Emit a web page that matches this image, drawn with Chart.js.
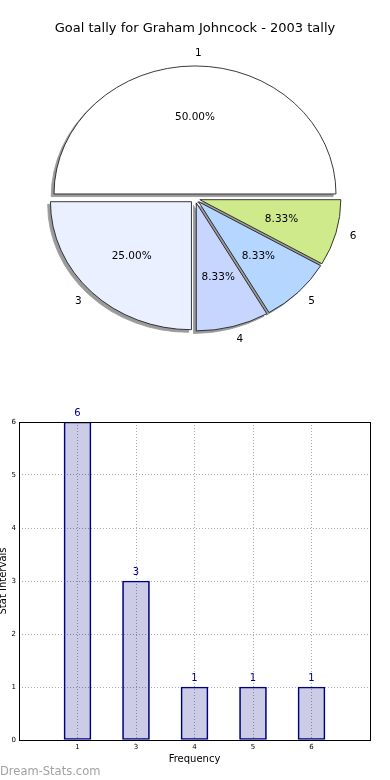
<!DOCTYPE html>
<html><head><meta charset="utf-8">
<script src="https://cdn.jsdelivr.net/npm/chart.js@4.4.1/dist/chart.umd.min.js"></script>
<style>
html,body{margin:0;padding:0;background:#fff;}
#wrap{position:relative;width:390px;height:780px;overflow:hidden;background:#fff;}
#pieBox{position:absolute;left:0;top:0;width:390px;height:390px;}
#barBox{position:absolute;left:0;top:380px;width:390px;height:400px;}
#mark{position:absolute;left:0;top:765px;font:11.5px/12px "DejaVu Sans";color:#a2a2a2;white-space:nowrap;}
</style></head><body>
<div id="wrap">
<div id="pieBox"><canvas id="pie"></canvas></div>
<div id="barBox"><canvas id="bar"></canvas></div>
<div id="mark">Dream-Stats.com</div>
</div>
<script>
// ---- data ----
const chartTitle = 'Goal tally for Graham Johncock - 2003 tally';
const categories = ['1', '3', '4', '5', '6'];
const tallies = [6, 3, 1, 1, 1];
const yTickValues = [0, 1, 2, 3, 4, 5, 6];
const xAxisTitle = 'Frequency';
const yAxisTitle = 'Stat Intervals';
// ---- styles ----
const sliceColors = ['#ffffff', '#eaf0ff', '#c6d6ff', '#b4d6ff', '#cfea8b'];

const FONT = '"DejaVu Sans", sans-serif';
const SY = 128 / 141;      // vertical squash of the pie (ellipse)
const EXPLODE = 5;
const SH_DX = -2.8, SH_DY = 2.6;

// pie draws counter-clockwise in the reference: reorder for Chart.js (clockwise)
const pieOrder = [0].concat(categories.slice(1).map((_, i) => categories.length - 1 - i));

const piePlugin = {
  id: 'pieDraw',
  beforeDatasetsDraw(chart) {
    const ctx = chart.ctx;
    const arcs = chart.getDatasetMeta(0).data;
    const cx = arcs[0].x, cy = arcs[0].y;
    const drawArc = (el, dx, dy, override) => {
      const orig = el.options;
      if (override) el.options = Object.assign({}, orig, override);
      ctx.save(); ctx.translate(dx, dy); el.draw(ctx); ctx.restore();
      el.options = orig;
    };
    ctx.save();
    ctx.translate(cx, cy); ctx.scale(1, SY); ctx.translate(-cx, -cy);
    arcs.forEach(el => {
      const mid = (el.startAngle + el.endAngle) / 2;
      drawArc(el, Math.cos(mid) * EXPLODE + SH_DX, Math.sin(mid) * EXPLODE + SH_DY / SY,
        {backgroundColor: '#9a9a9a', borderColor: '#9a9a9a'});
    });
    arcs.forEach(el => {
      const mid = (el.startAngle + el.endAngle) / 2;
      drawArc(el, Math.cos(mid) * EXPLODE, Math.sin(mid) * EXPLODE);
    });
    ctx.restore();

    const ds = chart.data.datasets[0];
    const total = ds.data.reduce((a, b) => a + b, 0);
    ctx.save();
    ctx.fillStyle = '#000';
    ctx.font = '10.5px ' + FONT;
    ctx.textBaseline = 'middle';
    arcs.forEach((el, i) => {
      const mid = (el.startAngle + el.endAngle) / 2;
      const R = el.outerRadius;
      const c = Math.cos(mid), s = Math.sin(mid);
      ctx.textAlign = c > -1e-6 ? 'left' : 'right';
      ctx.fillText(chart.data.labels[i], cx + c * (EXPLODE + 1.1 * R), cy + SY * s * (EXPLODE + 1.1 * R));
      ctx.textAlign = 'center';
      ctx.fillText((ds.data[i] / total * 100).toFixed(2) + '%', cx + c * (EXPLODE + 0.6 * R), cy + SY * s * (EXPLODE + 0.6 * R));
    });
    ctx.restore();
    return false;
  }
};

new Chart(document.getElementById('pie'), {
  type: 'pie',
  data: {
    labels: pieOrder.map(i => categories[i]),
    datasets: [{
      data: pieOrder.map(i => tallies[i]),
      backgroundColor: pieOrder.map(i => sliceColors[i]),
      borderColor: '#1a1a1a',
      borderWidth: 0.9,
      radius: 141,
      offset: 0,
      hoverOffset: 0
    }]
  },
  options: {
    responsive: true,
    maintainAspectRatio: false,
    animation: false,
    rotation: 270,
    layout: {padding: {top: 0, left: 0, right: 0, bottom: 29.8}},
    plugins: {
      legend: {display: false},
      tooltip: {enabled: false},
      title: {
        display: true, text: chartTitle, color: '#000',
        font: {family: FONT, size: 13, weight: 'normal'},
        padding: {top: 21.2, bottom: 0}
      }
    }
  },
  plugins: [piePlugin]
});

const barPlugin = {
  id: 'barExtras',
  afterDatasetsDraw(chart) {
    const {ctx, chartArea: a} = chart;
    ctx.save();
    ctx.strokeStyle = '#000'; ctx.lineWidth = 1;
    ctx.strokeRect(Math.round(a.left) + 0.5, Math.round(a.top) + 0.5,
      Math.round(a.right - a.left), Math.round(a.bottom - a.top));
    const meta = chart.getDatasetMeta(0);
    ctx.fillStyle = '#000080';
    ctx.font = '10px ' + FONT;
    ctx.textAlign = 'center'; ctx.textBaseline = 'middle';
    meta.data.forEach((el, i) => ctx.fillText(String(tallies[i]), el.x, el.y - 9));
    ctx.restore();
  }
};

const xTickValues = [-1].concat(categories.map((_, i) => i), [categories.length]);

new Chart(document.getElementById('bar'), {
  type: 'bar',
  data: {
    datasets: [{
      data: categories.map((c, i) => ({x: i, y: tallies[i]})),
      backgroundColor: 'rgba(0,0,128,0.2)',
      borderColor: '#000080',
      borderWidth: 1,
      borderSkipped: false,
      barThickness: 27
    }]
  },
  options: {
    responsive: true,
    maintainAspectRatio: false,
    animation: false,
    layout: {padding: {top: 42, right: 20, left: 0, bottom: 0}},
    plugins: {legend: {display: false}, tooltip: {enabled: false}},
    scales: {
      x: {
        type: 'linear', min: -1, max: categories.length, offset: false,
        afterBuildTicks: s => { s.ticks = xTickValues.map(v => ({value: v})); },
        afterFit: s => { s.height = 40; },
        ticks: {
          autoSkip: false, maxRotation: 0, padding: 3, color: '#000',
          font: {family: FONT, size: 7},
          callback: v => (Number.isInteger(v) && categories[v] !== undefined) ? categories[v] : ''
        },
        grid: {color: '#a8a8a8', drawTicks: false, lineWidth: 1, offset: false},
        border: {display: false, dash: [1, 2]},
        title: {display: true, text: xAxisTitle, color: '#000',
          font: {family: FONT, size: 10}, padding: {top: 0, bottom: 14.5}}
      },
      y: {
        min: 0, max: 6,
        afterBuildTicks: s => { s.ticks = yTickValues.map(v => ({value: v})); },
        afterFit: s => { s.width = 19; },
        ticks: {padding: 3, color: '#000', font: {family: FONT, size: 7}},
        grid: {color: '#a8a8a8', drawTicks: false, lineWidth: 1},
        border: {display: false, dash: [1, 2]},
        title: {display: true, text: yAxisTitle, color: '#000',
          font: {family: FONT, size: 10}, padding: {top: -2.5, bottom: 0}}
      }
    }
  },
  plugins: [barPlugin]
});
</script>
</body></html>
